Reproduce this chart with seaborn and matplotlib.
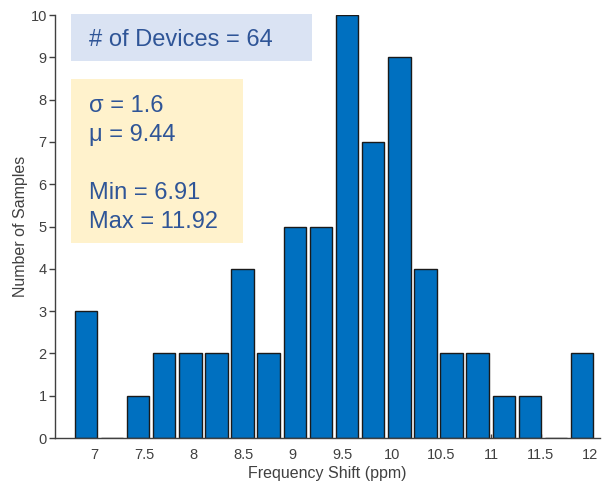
import numpy as np
import pandas as pd
import matplotlib
matplotlib.use('Agg')
import matplotlib.pyplot as plt
import seaborn as sns

# histogram data: 20 bins between min and max shift
shift_min = 6.91
shift_max = 11.92
counts = [3, 0, 1, 2, 2, 2, 4, 2, 5, 5, 10, 7, 9, 4, 2, 2, 1, 1, 0, 2]
xticks = [7, 7.5, 8, 8.5, 9, 9.5, 10, 10.5, 11, 11.5, 12]
xtick_labels = ['7', '7.5', '8', '8.5', '9', '9.5', '10', '10.5', '11', '11.5', '12']
yticks = list(range(0, 11))

n_devices = 64
sigma = 1.6
mu = 9.44

centers = np.round(np.linspace(shift_min, shift_max, len(counts)), 4)
df = pd.DataFrame({'shift': centers, 'count': counts})

sns.set_style('white')
plt.rcParams['font.family'] = ['Liberation Sans', 'DejaVu Sans']

fig = plt.figure(figsize=(6.06, 4.84), dpi=100)
ax = fig.add_axes([0.091, 0.095, 0.899, 0.874])

sns.barplot(data=df, x='shift', y='count', native_scale=True, width=0.86,
            color='#0070c0', saturation=1, edgecolor='#1a1a1a', linewidth=1.0, ax=ax)

ax.set_xlim(6.6, 12.1)
ax.set_ylim(0, 10)
ax.set_xticks(xticks)
ax.set_xticklabels(xtick_labels)
ax.set_yticks(yticks)
ax.tick_params(axis='both', colors='#404040', labelsize=10.5, width=1)
ax.tick_params(axis='x', bottom=True, direction='in', length=3, pad=7)
ax.tick_params(axis='y', left=True, direction='out', length=4, pad=2)
ax.set_xlabel('Frequency Shift (ppm)', color='#404040', fontsize=11.5, labelpad=3)
ax.set_ylabel('Number of Samples', color='#404040', fontsize=11.5, labelpad=2)
for s in ['top', 'right']:
    ax.spines[s].set_visible(False)
for s in ['left', 'bottom']:
    ax.spines[s].set_color('#404040')
    ax.spines[s].set_linewidth(1.0)

# annotation boxes
fig.patches.append(plt.Rectangle((71/606, 1-61/484), 241/606, 47/484, transform=fig.transFigure,
                                 facecolor='#dae3f3', edgecolor='none', zorder=3))
fig.patches.append(plt.Rectangle((71/606, 1-243/484), 172/606, 164/484, transform=fig.transFigure,
                                 facecolor='#fff2cc', edgecolor='none', zorder=3))
txt_color = '#2f5597'
fig.text(89/606, 1-40/484, '# of Devices = %d' % n_devices, color=txt_color, fontsize=17,
         va='center', ha='left', zorder=4)
fig.text(89/606, 1-164/484, '\u03c3 = %.1f\n\u03bc = %.2f\n\nMin = %.2f\nMax = %.2f' % (sigma, mu, shift_min, shift_max),
         color=txt_color, fontsize=17, va='center', ha='left', linespacing=1.4, zorder=4)

fig.savefig('out.png', dpi=100)
